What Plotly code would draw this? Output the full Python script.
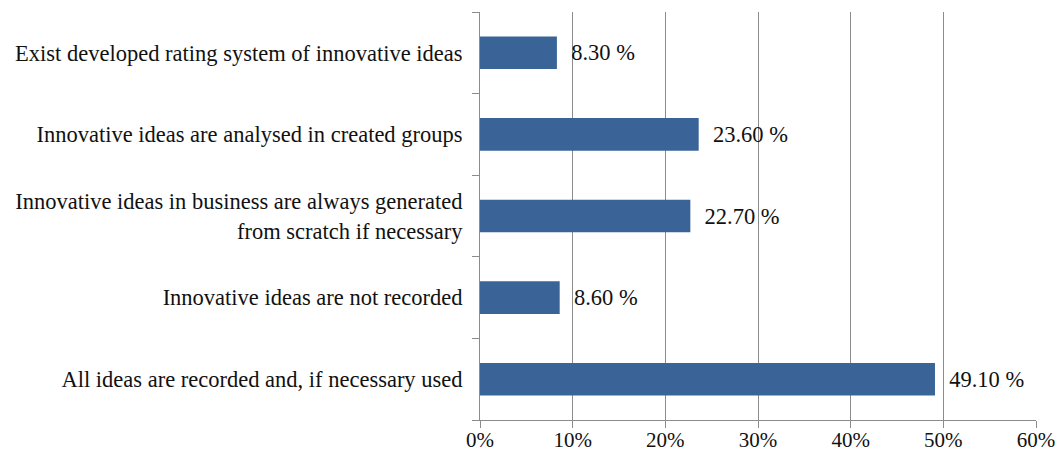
import plotly.graph_objects as go

categories = [
    "All ideas are recorded and, if necessary used",
    "Innovative ideas are not recorded",
    "Innovative ideas in business are always generated<br>from scratch if necessary",
    "Innovative ideas are analysed in created groups",
    "Exist developed rating system of innovative ideas",
]
values = [0.491, 0.086, 0.227, 0.236, 0.083]
labels = ["49.10 %", "8.60 %", "22.70 %", "23.60 %", "8.30 %"]
x_ticks = [0, 0.1, 0.2, 0.3, 0.4, 0.5, 0.6]
x_ticktext = ["0%", "10%", "20%", "30%", "40%", "50%", "60%"]

font_family = "Liberation Serif"
fs = 22.5

fig = go.Figure(
    go.Bar(
        x=values,
        y=categories,
        orientation="h",
        marker=dict(color="#3A6498", line=dict(width=0)),
        text=["  " + t for t in labels],
        textposition="outside",
        textfont=dict(family=font_family, size=fs, color="#111111"),
        cliponaxis=False,
    )
)

fig.update_layout(
    width=1055,
    height=459,
    margin=dict(l=480, r=19, t=12, b=39, autoexpand=False),
    paper_bgcolor="white",
    plot_bgcolor="white",
    bargap=0.6,
    showlegend=False,
    font=dict(family=font_family, size=fs, color="#111111"),
)

fig.update_xaxes(
    range=[0, 0.6],
    tickvals=x_ticks,
    ticktext=x_ticktext,
    showgrid=True,
    gridcolor="#8c8c8c",
    gridwidth=1,
    showline=True,
    linecolor="#8c8c8c",
    linewidth=1,
    ticks="outside",
    ticklen=7,
    tickcolor="#8c8c8c",
    ticklabelstandoff=-6,
    ticklabeloverflow="allow",
    automargin=False,
    tickfont=dict(family=font_family, size=21, color="#111111"),
    zeroline=False,
)

fig.update_yaxes(
    type="category",
    categoryorder="array",
    categoryarray=categories,
    showline=True,
    linecolor="#8c8c8c",
    linewidth=1,
    ticks="outside",
    tickson="boundaries",
    ticklen=7,
    tickcolor="#8c8c8c",
    ticklabelstandoff=12,
    automargin=False,
    tickfont=dict(family=font_family, size=fs, color="#111111"),
    showgrid=False,
)

fig.write_html("out.html")
